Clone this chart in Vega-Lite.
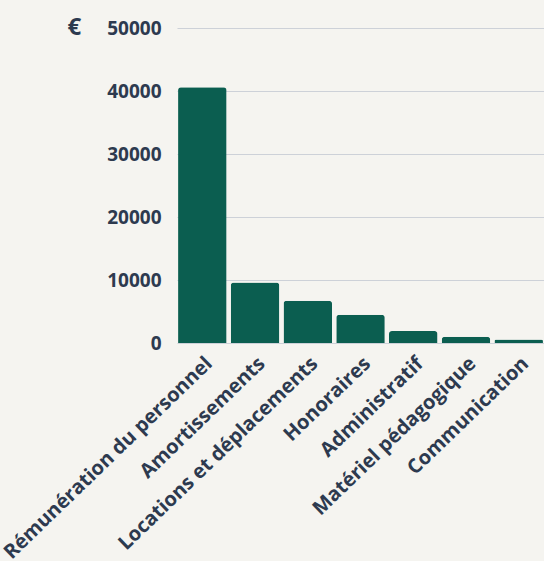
{
  "$schema": "https://vega.github.io/schema/vega-lite/v6.json",
  "autosize": {"type": "none"},
  "padding": {"left": 177, "top": 28, "right": 0, "bottom": 218},
  "width": 367,
  "height": 315,
  "background": "#f5f4f0",
  "config": {
    "view": {"stroke": null},
    "font": "Open Sans"
  },
  "data": {
    "values": [
      {"poste": "Rémunération du personnel", "montant": 40600},
      {"poste": "Amortissements", "montant": 9600},
      {"poste": "Locations et déplacements", "montant": 6700},
      {"poste": "Honoraires", "montant": 4500},
      {"poste": "Administratif", "montant": 1900},
      {"poste": "Matériel pédagogique", "montant": 1000},
      {"poste": "Communication", "montant": 550}
    ]
  },
  "mark": {"type": "bar", "color": "#0b5e50", "cornerRadiusTopLeft": 3, "cornerRadiusTopRight": 3},
  "encoding": {
    "x": {
      "field": "poste", "type": "nominal", "sort": null,
      "scale": {"paddingInner": 0.08, "paddingOuter": 0.02},
      "axis": {
        "title": null, "labelAngle": -44, "labelFontSize": 20, "labelFontWeight": "bold",
        "labelColor": "#2d3a4f", "domain": false, "ticks": false, "labelPadding": 10, "labelLimit": 400
      }
    },
    "y": {
      "field": "montant", "type": "quantitative",
      "scale": {"domain": [0, 50000]},
      "axis": {
        "title": "€", "titleAngle": 0, "titleX": -110, "titleY": 6, "titleAlign": "left",
        "titleBaseline": "alphabetic", "titleFontSize": 24, "titleFontWeight": "bold", "titleColor": "#2d3a4f",
        "values": [0, 10000, 20000, 30000, 40000, 50000], "format": "d",
        "labelFontSize": 19, "labelFontWeight": "bold", "labelColor": "#2d3a4f", "labelPadding": 16,
        "domain": false, "ticks": false, "gridColor": "#cdd1d8", "gridWidth": 1
      }
    }
  }
}
